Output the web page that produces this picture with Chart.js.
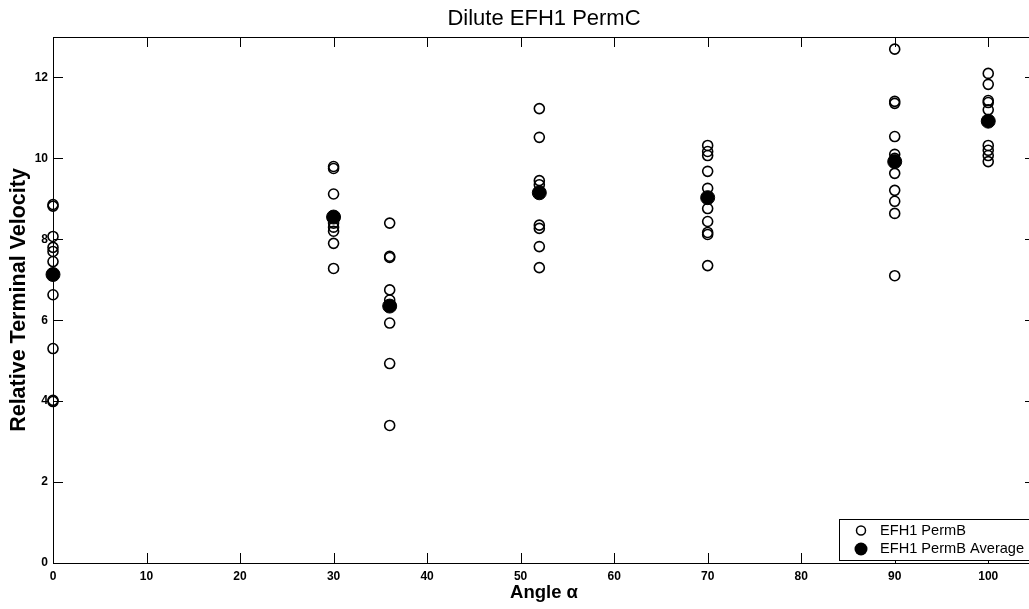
<!DOCTYPE html>
<html><head><meta charset="utf-8">
<script src="https://cdn.jsdelivr.net/npm/chart.js@4.4.0/dist/chart.umd.min.js"></script>
<style>html,body{margin:0;padding:0;background:#fff;overflow:hidden;} #wrap{width:1045px;height:609px;position:relative;}</style>
</head><body><div id="wrap"><canvas id="c"></canvas></div>
<script>
const chartTitle = 'Dilute EFH1 PermC';
const xTitle = 'Angle \u03B1';
const yTitle = 'Relative Terminal Velocity';
const seriesLabels = ['EFH1 PermB', 'EFH1 PermB Average'];
const angles = [0, 30, 36, 52, 70, 90, 100];
const runs0   = [8.86, 8.82, 8.07, 7.80, 7.70, 7.45, 6.63, 5.30, 4.02, 3.99];
const runs30  = [9.80, 9.75, 9.12, 8.40, 8.30, 8.20, 7.90, 7.28];
const runs36  = [8.40, 7.58, 7.55, 6.75, 6.50, 5.93, 4.93, 3.40];
const runs52  = [11.23, 10.52, 9.45, 9.35, 8.35, 8.27, 7.82, 7.30];
const runs70  = [10.32, 10.17, 10.07, 9.68, 9.26, 8.76, 8.44, 8.17, 8.12, 7.35];
const runs90  = [12.70, 11.41, 11.36, 10.54, 10.10, 10.00, 9.63, 9.21, 8.94, 8.64, 7.10];
const runs100 = [12.10, 11.83, 11.43, 11.38, 11.20, 10.32, 10.20, 10.07, 9.92];
const averages = [7.13, 8.55, 6.35, 9.15, 9.03, 9.92, 10.92];
const xTicks = [0, 10, 20, 30, 40, 50, 60, 70, 80, 90, 100];
const yTicks = [0, 2, 4, 6, 8, 10, 12];

const runsByAngle = [runs0, runs30, runs36, runs52, runs70, runs90, runs100];
const runPoints = [];
angles.forEach((a, i) => runsByAngle[i].forEach(v => runPoints.push({x: a, y: v})));
const avgPoints = angles.map((a, i) => ({x: a, y: averages[i]}));

const FAMILY = 'Liberation Sans, Arial, sans-serif';
const tickFont = {family: FAMILY, size: 12, weight: 'bold'};

const framePlugin = {
  id: 'frame',
  beforeDatasetsDraw(chart) {
    const {ctx, chartArea: a, scales: {x, y}} = chart;
    ctx.save();
    ctx.strokeStyle = '#000';
    ctx.lineWidth = 1;
    ctx.strokeRect(a.left + 0.5, a.top + 0.5, a.right - a.left, a.bottom - a.top);
    const L = 10;
    ctx.beginPath();
    xTicks.forEach(v => {
      const p = Math.round(x.getPixelForValue(v)) + 0.5;
      ctx.moveTo(p, a.bottom); ctx.lineTo(p, a.bottom - L);
      ctx.moveTo(p, a.top); ctx.lineTo(p, a.top + L);
    });
    yTicks.forEach(v => {
      const p = Math.round(y.getPixelForValue(v)) + 0.5;
      ctx.moveTo(a.left, p); ctx.lineTo(a.left + L, p);
      ctx.moveTo(a.right, p); ctx.lineTo(a.right - L, p);
    });
    ctx.stroke();
    ctx.restore();
  },
  afterDraw(chart) {
    const {ctx, chartArea: a} = chart;
    const ds = chart.data.datasets;
    const right = a.right - 4, bottom = a.bottom - 3;
    const left = right - 192, top = bottom - 41;
    ctx.save();
    ctx.fillStyle = '#fff';
    ctx.fillRect(left, top, right - left, bottom - top);
    ctx.strokeStyle = '#000';
    ctx.lineWidth = 1;
    ctx.strokeRect(left + 0.5, top + 0.5, right - left, bottom - top);
    ctx.font = '14.6px "Liberation Sans", Arial, sans-serif';
    ctx.textBaseline = 'middle';
    ctx.fillStyle = '#000';
    const rows = [top + 11.5, top + 30];
    ctx.beginPath();
    ctx.lineWidth = 1.5;
    ctx.arc(left + 22, rows[0], 4.5, 0, Math.PI * 2);
    ctx.stroke();
    ctx.beginPath();
    ctx.arc(left + 22, rows[1], 6.5, 0, Math.PI * 2);
    ctx.fill();
    ctx.fillText(ds[1].label, left + 41, rows[0]);
    ctx.fillText(ds[0].label, left + 41, rows[1]);
    ctx.restore();
  }
};

new Chart(document.getElementById('c'), {
  type: 'scatter',
  data: {
    datasets: [
      {label: seriesLabels[1], data: avgPoints, pointRadius: 7, pointBackgroundColor: '#000', pointBorderColor: '#000', pointBorderWidth: 1, clip: false},
      {label: seriesLabels[0], data: runPoints, pointRadius: 5, pointBackgroundColor: 'rgba(0,0,0,0)', pointBorderColor: '#000', pointBorderWidth: 1.6, clip: false}
    ]
  },
  options: {
    responsive: true,
    maintainAspectRatio: false,
    animation: false,
    events: [],
    layout: {padding: {left: 0, right: 10, top: 0, bottom: 0}},
    plugins: {
      legend: {display: false},
      tooltip: {enabled: false},
      title: {display: true, text: chartTitle, fullSize: false, color: '#000',
        font: {family: FAMILY, size: 22, weight: 'normal'},
        padding: {top: 5.3, bottom: 5.3}}
    },
    scales: {
      x: {
        type: 'linear', min: 0, max: 105,
        afterFit(s) { s.height = 46; },
        afterBuildTicks(s) { s.ticks = xTicks.map(v => ({value: v})); },
        border: {display: false},
        grid: {display: false, drawTicks: false},
        ticks: {color: '#000', font: tickFont, padding: 6, maxRotation: 0, autoSkip: false, includeBounds: false},
        title: {display: true, text: xTitle, color: '#000', font: {family: FAMILY, size: 18.5, weight: 'bold'}, padding: {top: 0, bottom: 4.5}}
      },
      y: {
        type: 'linear', min: 0, max: 13,
        afterFit(s) { s.width = 53; },
        afterBuildTicks(s) { s.ticks = yTicks.map(v => ({value: v})); },
        border: {display: false},
        grid: {display: false, drawTicks: false},
        ticks: {color: '#000', font: tickFont, padding: 5, autoSkip: false, includeBounds: false},
        title: {display: true, text: yTitle, color: '#000', font: {family: FAMILY, size: 21.5, weight: 'bold'}, padding: {top: 6, bottom: 0}}
      }
    }
  },
  plugins: [framePlugin]
});
</script>
</body></html>
